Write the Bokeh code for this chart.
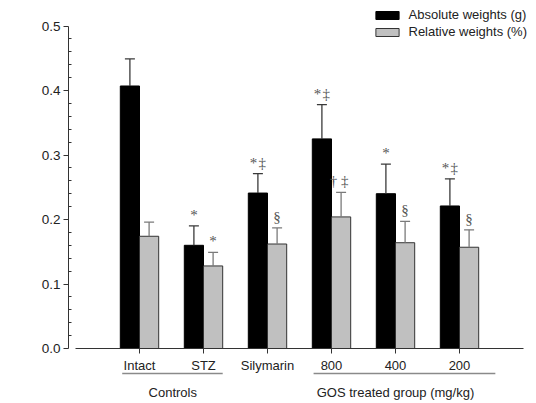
import math
from bokeh.plotting import figure
from bokeh.models import (ColumnDataSource, FixedTicker, Range1d, LinearAxis,
                          Whisker, TeeHead, Label)
from bokeh.core.properties import value
from bokeh.embed import file_html
from bokeh.resources import INLINE

# ---- data ----
groups = ["Intact", "STZ", "Silymarin", "800", "400", "200"]
abs_mean = [0.407, 0.160, 0.241, 0.325, 0.240, 0.221]
abs_err = [0.042, 0.030, 0.030, 0.053, 0.046, 0.042]
rel_mean = [0.174, 0.128, 0.162, 0.204, 0.164, 0.157]
rel_err = [0.022, 0.021, 0.025, 0.038, 0.033, 0.027]
abs_marks = ["", "*", "*\u200a\u2021", "*\u200a\u2021", "*", "*\u200a\u2021"]
rel_marks = ["", "*", "\u00a7", "\u2020  \u2021", "\u00a7", "\u00a7"]
y_ticks = [0.0, 0.1, 0.2, 0.3, 0.4, 0.5]
y_minor = [round(i * 0.02, 2) for i in range(26) if i % 5]
group_names = ["Controls", "GOS treated group (mg/kg)"]
group_members = [[1, 2], [4, 5, 6]]

# ---- layout (pixels) ----
W, H = 536, 403
frame_l, frame_r, frame_t, frame_b = 68, 530, 4, 401
x_zero_px, x_unit_px = 75, 64.0      # screen x of position 0, px per category
y_zero_px, y_unit_px = 348, 645.0    # screen y of value 0, px per unit
bar_w = 0.3

x_start = (frame_l - x_zero_px) / x_unit_px
x_end = (frame_r - x_zero_px) / x_unit_px
y_end = (y_zero_px - frame_t) / y_unit_px
y_start = -(frame_b - y_zero_px) / y_unit_px

pos = list(range(1, len(groups) + 1))
src_abs = ColumnDataSource(dict(
    x=[p - bar_w / 2 for p in pos], top=abs_mean,
    upper=[m + e for m, e in zip(abs_mean, abs_err)], mark=abs_marks))
src_rel = ColumnDataSource(dict(
    x=[p + bar_w / 2 for p in pos], top=rel_mean,
    upper=[m + e for m, e in zip(rel_mean, rel_err)], mark=rel_marks))

p = figure(width=W, height=H, output_backend="svg", toolbar_location=None,
           x_range=Range1d(x_start, x_end), y_range=Range1d(y_start, y_end),
           x_axis_location=None,
           min_border_left=frame_l, min_border_right=W - frame_r,
           min_border_top=frame_t, min_border_bottom=H - frame_b)
p.outline_line_color = None
p.grid.visible = False
p.background_fill_color = "white"
p.border_fill_color = "white"

# error bars (upper only), drawn beneath the bars
for src, col in ((src_abs, "#3a3a3a"), (src_rel, "#7a7a7a")):
    w = Whisker(base="x", upper="upper", lower="top", source=src,
                upper_head=TeeHead(size=10, line_color=col, line_width=1.3),
                lower_head=None, line_color=col, line_width=1.3, level="glyph")
    p.add_layout(w)

p.vbar(x="x", top="top", width=bar_w, bottom=0, source=src_abs,
       fill_color="black", line_color="black", line_width=1,
       legend_label="Absolute weights (g)")
p.vbar(x="x", top="top", width=bar_w, bottom=0, source=src_rel,
       fill_color="#c0c0c0", line_color="#333333", line_width=1,
       legend_label="Relative weights (%)")

# significance marks above the error bars
for src in (src_abs, src_rel):
    p.text(x="x", y="upper", text="mark", source=src, y_offset=-11,
           text_align="center", text_baseline="alphabetic",
           text_font=value("Liberation Serif"), text_font_size="15px",
           text_color="#555555")

# y axis
ya = p.yaxis[0]
ya.bounds = (0, 0.5)
ya.ticker = FixedTicker(ticks=y_ticks, minor_ticks=y_minor)
ya.major_label_overrides = {t: f"{t:.1f}" for t in y_ticks}
ya.major_tick_out = 5
ya.major_tick_in = 0
ya.minor_tick_out = 0
ya.minor_tick_in = 3
ya.major_label_standoff = 3
ya.axis_line_color = "#333333"
ya.major_tick_line_color = "#333333"
ya.minor_tick_line_color = "#333333"
ya.major_label_text_font = "Liberation Sans"
ya.major_label_text_font_size = "13.5px"
ya.major_label_text_color = "#222222"

# x axis sitting at value 0
xa = LinearAxis(fixed_location=0, bounds=(0, x_end - 0.11))
xa.ticker = FixedTicker(ticks=pos, minor_ticks=[])
xa.major_label_overrides = {p_: g for p_, g in zip(pos, groups)}
xa.major_tick_out = 5
xa.major_tick_in = 0
xa.major_label_standoff = 4
xa.axis_line_color = "#333333"
xa.major_tick_line_color = "#333333"
xa.major_label_text_font = "Liberation Sans"
xa.major_label_text_font_size = "13px"
xa.major_label_text_color = "#222222"
p.add_layout(xa, "below")

# group brackets and names under the category labels
line_y = -25 / y_unit_px
span_pad = [(0.27, 0.30), (0.28, 0.56)]
x0s = [min(m) - a for m, (a, b) in zip(group_members, span_pad)]
x1s = [max(m) + b for m, (a, b) in zip(group_members, span_pad)]
p.segment(x0=x0s, y0=[line_y] * 2, x1=x1s, y1=[line_y] * 2,
          line_color="#8a8a8a", line_width=1.5)
centers = [sum(m) / len(m) for m in group_members]
centers[0] += 0.02
p.text(x=centers, y=[0, 0], text=group_names, y_offset=44,
       text_align="center", text_baseline="middle",
       text_font=value("Liberation Sans"), text_font_size="13px",
       text_color="#222222")

# y axis title
p.add_layout(Label(x=(21 - x_zero_px) / x_unit_px, y=0.253, text="Spleen weights",
                   angle=math.pi / 2, text_align="center", text_baseline="middle",
                   text_font="Liberation Sans", text_font_size="14px",
                   text_color="#222222"))

# legend
lg = p.legend[0]
lg.location = "top_right"
lg.margin = 3
lg.padding = 0
lg.border_line_color = None
lg.background_fill_alpha = 0
lg.glyph_width = 29
lg.glyph_height = 10
lg.label_height = 14
lg.spacing = 2
lg.label_standoff = 7
lg.label_text_font = "Liberation Sans"
lg.label_text_font_size = "13px"
lg.label_text_color = "#222222"

open("out.html", "w").write(file_html(p, INLINE))
